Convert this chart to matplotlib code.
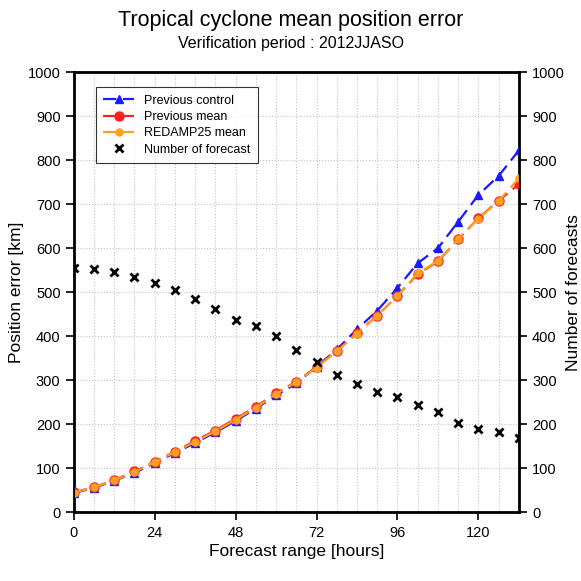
import matplotlib
matplotlib.use("Agg")
import matplotlib.pyplot as plt

plt.rcParams["font.family"] = ["Liberation Sans", "DejaVu Sans"]

hours = list(range(0, 133, 6))
prev_control = [44, 56, 72, 90, 112, 135, 158, 182, 208, 236, 266, 293, 331, 370, 416, 458, 510,
                566, 600, 660, 721, 764, 822]
prev_mean = [46, 57, 74, 93, 115, 138, 163, 186, 213, 240, 271, 297, 330, 367, 407, 447, 492,
             541, 570, 620, 668, 708, 745]
redamp_mean = [45, 57, 73, 92, 114, 137, 161, 184, 211, 238, 269, 296, 329, 366, 406, 447, 492,
               543, 571, 620, 667, 707, 759]
n_forecast = [556, 553, 547, 535, 522, 505, 485, 462, 438, 423, 401, 368, 342, 313, 291, 274, 263,
              245, 229, 204, 190, 182, 170]

fig = plt.figure(figsize=(5.81, 5.81), dpi=100)
ax = fig.add_axes([0.127, 0.118, 0.766, 0.758])

ax.plot(hours, prev_control, color="#1a1aff", ls=(0, (6, 3)), lw=1.6, marker="^", ms=6,
        label="Previous control", zorder=3)
ax.plot(hours, prev_mean, color="#ff2020", ls=(0, (6, 3)), lw=1.6, marker="o", ms=6.5,
        label="Previous mean", zorder=4)
ax.plot(hours, redamp_mean, color="#ffa020", ls=(0, (6, 3)), lw=1.6, marker="o", ms=5,
        label="REDAMP25 mean", zorder=5)
ax.plot(hours, n_forecast, ls="none", marker="x", color="black", ms=6, mew=2,
        label="Number of forecast", zorder=6)

ax.set_xlim(0, 132)
ax.set_ylim(0, 1000)
ax.set_xticks(range(0, 121, 24))
ax.set_xticks(range(0, 133, 6), minor=True)
ax.set_yticks(range(0, 1001, 100))
ax.grid(True, which="both", axis="x", ls=":", color="#c4c4c4", lw=0.8)
ax.grid(True, which="major", axis="y", ls=":", color="#c4c4c4", lw=0.8)
ax.tick_params(axis="both", which="major", direction="out", length=6, width=1.2, labelsize=10.5)
ax.tick_params(axis="x", which="minor", length=0)
for s in ax.spines.values():
    s.set_linewidth(2)

ax.set_xlabel("Forecast range [hours]", fontsize=12.5, labelpad=3)
ax.set_ylabel("Position error [km]", fontsize=12.5, labelpad=3)

ax2 = ax.twinx()
ax2.set_ylim(0, 1000)
ax2.set_yticks(range(0, 1001, 100))
ax2.tick_params(axis="y", direction="out", length=6, width=1.2, labelsize=10.5)
ax2.set_ylabel("Number of forecasts", fontsize=12.5, labelpad=1)

leg = ax.legend(loc="upper left", bbox_to_anchor=(0.035, 0.98), fontsize=9, frameon=True,
                fancybox=False, edgecolor="black", handlelength=2.5, labelspacing=0.35,
                borderpad=0.6)
leg.get_frame().set_linewidth(0.8)

fig.text(0.5, 0.965, "Tropical cyclone mean position error", ha="center", va="center",
         fontsize=15.5)
fig.text(0.5, 0.925, "Verification period : 2012JJASO", ha="center", va="center", fontsize=11.5)

fig.savefig("out.png", dpi=100)
